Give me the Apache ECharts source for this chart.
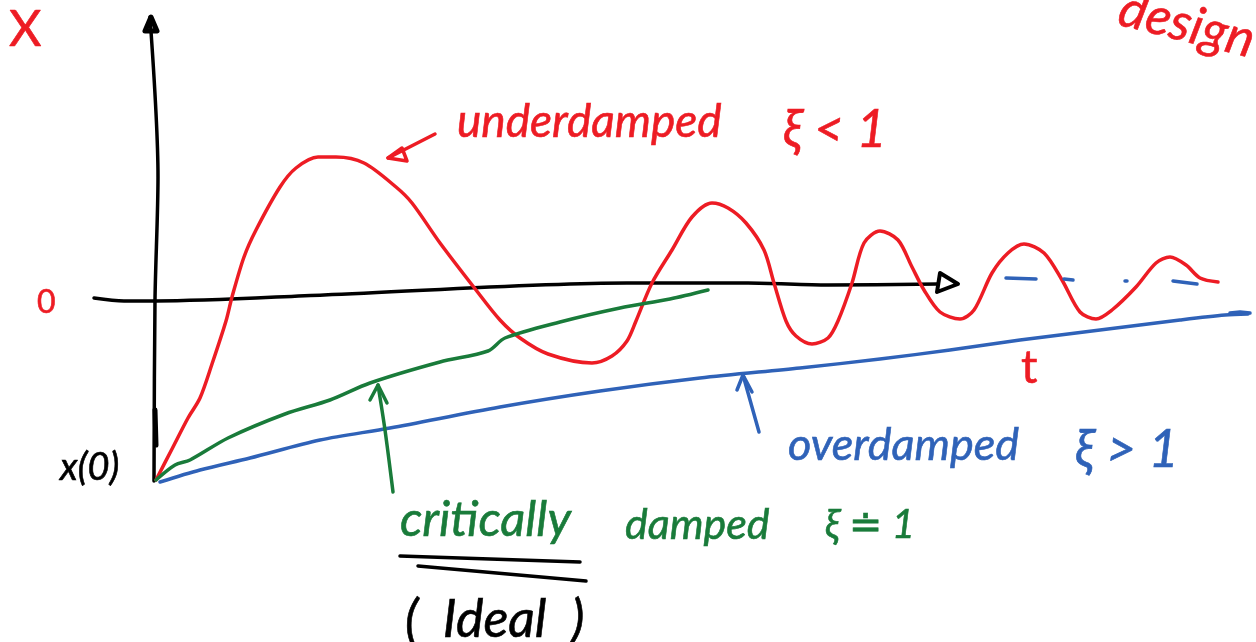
<!DOCTYPE html>
<html>
<head>
<meta charset="utf-8">
<style>
  html, body { margin: 0; padding: 0; background: #fff; }
  #chart { width: 1256px; height: 642px; }
</style>
<script src="https://cdn.jsdelivr.net/npm/echarts@6/dist/echarts.min.js"></script>
</head>
<body>
<div id="chart"></div>
<script>
// curves as [t, x]
var underdamped = [[1,-182],[17,-151],[33,-120],[45,-100],[57,-66],[71,-23],[77,1],[89,41],[101,68],[125,111],[141,130],[163,141],[181,141],[209,135],[241,111],[257,95],[285,55],[321,8],[345,-22],[365,-40],[393,-56],[437,-65],[457,-58],[472,-43],[481,-23],[497,15],[517,48],[537,81],[557,95],[573,90],[591,75],[609,48],[619,15],[631,-23],[641,-38],[657,-46],[673,-40],[683,-23],[697,15],[709,55],[725,67],[743,58],[757,31],[769,8],[785,-14],[805,-21],[819,-12],[837,25],[853,45],[869,54],[889,45],[907,18],[925,-14],[941,-21],[957,-12],[981,11],[1001,35],[1015,41],[1031,33],[1045,20],[1063,16]];
var critical = [[1,-182],[20,-167],[35,-162],[73,-140],[130,-116],[175,-102],[215,-85],[285,-64],[333,-53],[350,-40],[405,-24],[465,-10],[515,-1],[553,8]];
var overdamped = [[5,-184],[45,-172],[95,-160],[165,-142],[235,-130],[345,-109],[445,-93],[545,-80],[645,-70],[725,-61],[795,-52],[865,-42],[945,-32],[1025,-22],[1070,-17],[1093,-16]];

// axes and pen strokes
var yAxisStroke = [[-5,281],[3,121],[0,-2],[-1,-183]];
var yAxisOverdraw = [[0,-112],[1,-147]];
var yAxisHead = [[-10,267],[-4,281],[2,267],[-10,267]];
var xAxisStroke = [[-61,0],[-31,-3],[1,-3],[169,3],[472,15],[593,15],[673,13],[783,14]];
var xAxisHead = [[785,25],[803,14],[782,6],[785,25]];
var underline1 = [[245,-258],[425,-264]];
var underline2 = [[263,-268],[431,-283]];
var redArrow = [[280,164],[233,140]];
var redArrowHead = [[233,140],[247,150],[252,137],[233,140]];
var greenArrow = [[238,-194],[230,-132],[223,-87]];
var greenArrowHead = [[215,-102],[223,-87],[232,-105]];
var blueArrow = [[604,-134],[588,-77]];
var blueArrowHead = [[582,-92],[588,-77],[597,-94]];
var blueDashes = [
  [[851,20],[881,19]],
  [[909,19],[918,18]],
  [[970,17],[972,17]],
  [[1018,17],[1042,14]],
  [[1075,-15],[1085,-14],[1095,-15]]
];

// handwritten notes: text, t, x
var redNotes = [['X',-146,268],['0',-118,-5],['t',866,-70],['underdamped',302,176],['ξ < 1',628,168]];
var blueNotes = [['overdamped',633,-147],['ξ > 1',920,-152]];
var greenNotes = [['critically',245,-222],['damped',470,-227],['ξ ≐ 1',670,-227]];
var blackNotes = [['x(0)',-95,-170],['(  Ideal  )',250,-322]];

var RED = '#ed1c24', GREEN = '#197b3a', BLUE = '#2f62b8', BLACK = '#000000';
var noteSize = { 'X': 50, '0': 32, 't': 46, 'underdamped': 46, 'ξ < 1': 52, 'overdamped': 45, 'ξ > 1': 52, 'critically': 49, 'damped': 43, 'ξ ≐ 1': 40, 'x(0)': 38, '(  Ideal  )': 52, 'design': 52 };
var upright = { 'X': true, '0': true, 't': true };

function stroke(data, color, width, smooth) {
  return {
    type: 'line',
    data: data,
    showSymbol: false,
    smooth: smooth ? 0.3 : false,
    silent: true,
    clip: false,
    lineStyle: { color: color, width: width, cap: 'round', join: 'round', opacity: 1 }
  };
}

function note(text, t, x, color, rotate) {
  return {
    type: 'scatter',
    symbolSize: 0,
    silent: true,
    itemStyle: { opacity: 1 },
    data: [[t, x]],
    label: {
      show: true,
      position: 'right',
      distance: 0,
      formatter: text,
      color: color,
      opacity: 1,
      rotate: rotate || 0,
      textBorderColor: color,
      textBorderWidth: 0.6,
      fontFamily: 'Lato, "DejaVu Sans"',
      fontStyle: upright[text] ? 'normal' : 'italic',
      fontSize: noteSize[text]
    }
  };
}

function notes(list, color) {
  return list.map(function (n) {
    return note(n[0], n[1], n[2], color);
  });
}

var series = [
  stroke(xAxisStroke, BLACK, 3.5, true),
  stroke(xAxisHead, BLACK, 4),
  stroke(yAxisStroke, BLACK, 3.5, true),
  stroke(yAxisOverdraw, BLACK, 5),
  stroke(yAxisHead, BLACK, 5),
  stroke(underdamped, RED, 3.5, true),
  stroke(critical, GREEN, 3.5, true),
  stroke(overdamped, BLUE, 3.5, true),
  stroke(redArrow, RED, 3.5),
  stroke(redArrowHead, RED, 3.5),
  stroke(greenArrow, GREEN, 3.5, true),
  stroke(greenArrowHead, GREEN, 3.5),
  stroke(blueArrow, BLUE, 3.5),
  stroke(blueArrowHead, BLUE, 3.5),
  stroke(underline1, BLACK, 3.5),
  stroke(underline2, BLACK, 3.5)
];
blueDashes.forEach(function (d) {
  series.push(stroke(d, BLUE, 3.5));
});
series = series.concat(
  notes(redNotes, RED),
  notes(blueNotes, BLUE),
  notes(greenNotes, GREEN),
  notes(blackNotes, BLACK)
);
// the cut off word at the top right corner
series.push(note('design', 965, 290, RED, -14));

var chart = echarts.init(document.getElementById('chart'));
chart.setOption({
  animation: false,
  backgroundColor: '#ffffff',
  grid: { left: 0, right: 0, top: 0, bottom: 0 },
  xAxis: { type: 'value', min: -155, max: 1101, show: false },
  yAxis: { type: 'value', min: -344, max: 298, show: false },
  tooltip: { show: false },
  series: series
});
</script>
</body>
</html>
